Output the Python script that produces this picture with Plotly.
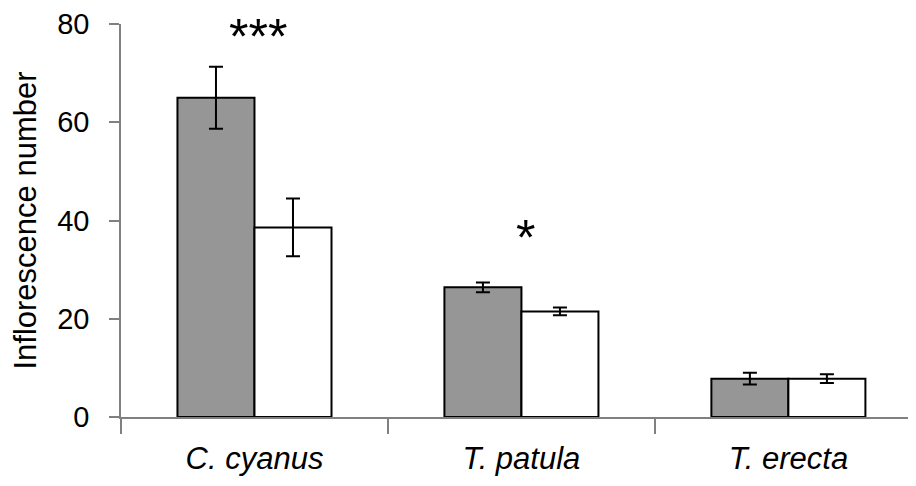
import plotly.graph_objects as go

categories = ["C. cyanus", "T. patula", "T. erecta"]
tick_labels = ["<i>C. cyanus</i>", "<i>T. patula</i>", "<i>T. erecta</i>"]
grey_values = [65.0, 26.4, 7.8]
grey_errors = [6.3, 1.0, 1.2]
white_values = [38.6, 21.5, 7.8]
white_errors = [5.9, 0.8, 0.9]
sig_labels = ["***", "*", ""]
sig_y = [77.3, 36.4, None]

FONT = "Liberation Sans, Arial, sans-serif"

fig = go.Figure()
fig.add_trace(go.Bar(
    x=categories, y=grey_values,
    marker=dict(color="#969696", line=dict(color="black", width=2)),
    error_y=dict(type="data", array=grey_errors, color="black", thickness=2, width=7),
    showlegend=False,
))
fig.add_trace(go.Bar(
    x=categories, y=white_values,
    marker=dict(color="white", line=dict(color="black", width=2)),
    error_y=dict(type="data", array=white_errors, color="black", thickness=2, width=7),
    showlegend=False,
))

for c, lab, yv in zip(categories, sig_labels, sig_y):
    if lab:
        fig.add_annotation(x=c, y=yv, text=lab, showarrow=False,
                           font=dict(family=FONT, size=50, color="black"),
                           xanchor="center", yanchor="middle", xshift=4)

fig.update_layout(
    width=908, height=478,
    margin=dict(l=113, r=0, t=14, b=69),
    paper_bgcolor="white", plot_bgcolor="white",
    barmode="group", bargap=0.423, bargroupgap=0,
    font=dict(family=FONT, color="black"),
)
fig.update_xaxes(
    type="category", range=[-0.5, 2.478],
    tickmode="array", tickvals=categories, ticktext=tick_labels,
    tickson="boundaries", ticks="outside", ticklen=15, tickwidth=1.5, tickcolor="#808080",
    showline=True, linecolor="#808080", linewidth=1.5,
    showgrid=False, zeroline=False,
    tickfont=dict(family=FONT, size=31, color="black"),
    ticklabelstandoff=13,
)
fig.update_yaxes(
    range=[0, 80], tickvals=[0, 20, 40, 60, 80],
    ticks="outside", ticklen=10, tickwidth=1.5, tickcolor="#808080",
    showline=True, linecolor="#808080", linewidth=1.5,
    showgrid=False, zeroline=False,
    ticklabeloverflow="allow",
    tickfont=dict(family=FONT, size=29, color="black"),
    ticklabelstandoff=14,
    title=dict(text="Inflorescence number", font=dict(family=FONT, size=31, color="black"), standoff=12),
)

fig.write_html("out.html")
